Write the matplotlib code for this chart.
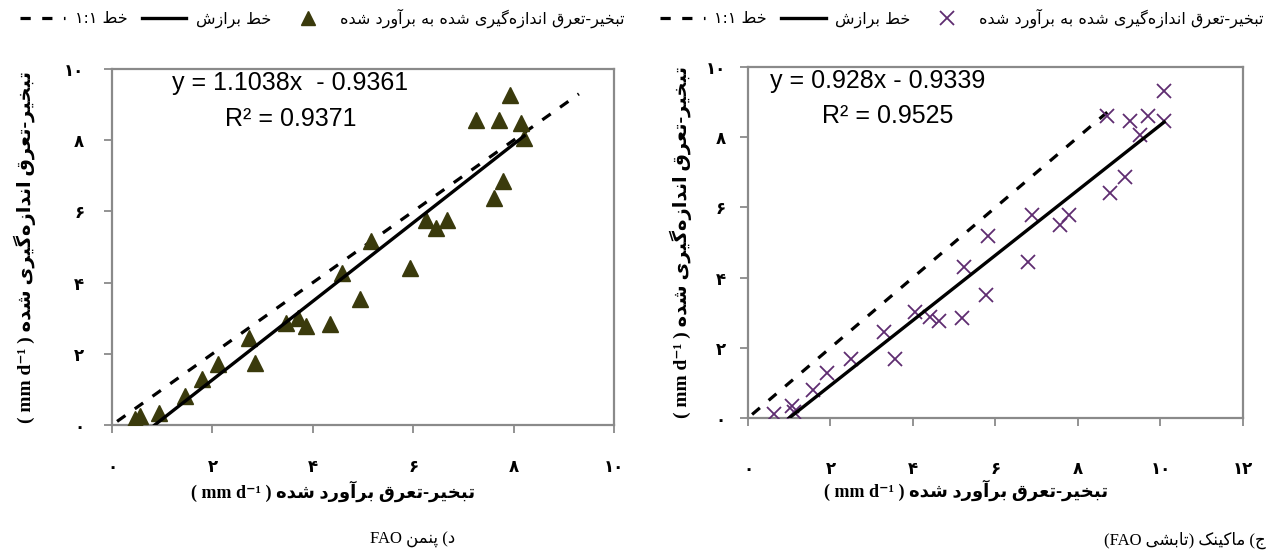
import matplotlib
matplotlib.use('Agg')
import matplotlib.pyplot as plt
from matplotlib.lines import Line2D

# ---- values ----
# left panel: Penman FAO
pm_est = [0.45, 0.56, 0.93, 1.46, 1.79, 2.11, 2.72, 2.85, 3.46, 3.70, 3.86, 4.35, 4.58,
          4.93, 5.16, 5.93, 6.26, 6.46, 6.67, 7.26, 7.60, 7.70, 7.79, 7.93, 8.15, 8.21]
pm_meas = [0.18, 0.24, 0.35, 0.81, 1.28, 1.70, 2.45, 1.75, 2.87, 3.01, 2.78, 2.83, 4.27,
           3.53, 5.16, 4.42, 5.77, 5.54, 5.77, 8.58, 6.38, 8.58, 6.85, 9.28, 8.48, 8.06]
pm_fit_x = [0.85, 8.21]
pm_fit_y = [0.0, 8.12]
pm_one_x = [0.1, 9.3]
pm_eq = 'y = 1.1038x  - 0.9361'
pm_r2 = 'R² = 0.9371'

# right panel: Makkink (FAO radiation)
mk_est = [0.62, 1.06, 1.12, 1.58, 1.91, 2.50, 3.31, 3.56, 4.06, 4.42, 4.63, 5.19, 5.24,
          5.77, 5.81, 6.80, 6.89, 7.57, 7.79, 8.70, 8.77, 9.15, 9.27, 9.50, 9.69, 10.09, 10.09]
mk_meas = [0.12, 0.33, 0.17, 0.79, 1.28, 1.69, 2.45, 1.67, 3.03, 2.88, 2.77, 2.84, 4.31,
           3.50, 5.19, 4.43, 5.78, 5.50, 5.77, 8.59, 6.42, 6.86, 8.47, 8.05, 8.61, 9.31, 8.47]
mk_fit_x = [1.0, 10.09]
mk_fit_y = [0.0, 8.43]
mk_one_x = [0.1, 8.9]
mk_eq = 'y = 0.928x - 0.9339'
mk_r2 = 'R² = 0.9525'

pm_xticks = [0, 2, 4, 6, 8, 10]
mk_xticks = [0, 2, 4, 6, 8, 10, 12]
yticks = [0, 2, 4, 6, 8, 10]

# ---- tiny persian shaper (matplotlib has no RTL / joining support) ----
FORMS = {
    'آ': ('\uFE81', '\uFE82', None, None), 'ا': ('\uFE8D', '\uFE8E', None, None),
    'ب': ('\uFE8F', '\uFE90', '\uFE91', '\uFE92'), 'پ': ('\uFB56', '\uFB57', '\uFB58', '\uFB59'),
    'ت': ('\uFE95', '\uFE96', '\uFE97', '\uFE98'), 'ج': ('\uFE9D', '\uFE9E', '\uFE9F', '\uFEA0'),
    'خ': ('\uFEA5', '\uFEA6', '\uFEA7', '\uFEA8'), 'د': ('\uFEA9', '\uFEAA', None, None),
    'ر': ('\uFEAD', '\uFEAE', None, None), 'ز': ('\uFEAF', '\uFEB0', None, None),
    'ش': ('\uFEB5', '\uFEB6', '\uFEB7', '\uFEB8'), 'ط': ('\uFEC1', '\uFEC2', '\uFEC3', '\uFEC4'),
    'ع': ('\uFEC9', '\uFECA', '\uFECB', '\uFECC'), 'ق': ('\uFED5', '\uFED6', '\uFED7', '\uFED8'),
    'ک': ('\uFB8E', '\uFB8F', '\uFB90', '\uFB91'), 'گ': ('\uFB92', '\uFB93', '\uFB94', '\uFB95'),
    'م': ('\uFEE1', '\uFEE2', '\uFEE3', '\uFEE4'), 'ن': ('\uFEE5', '\uFEE6', '\uFEE7', '\uFEE8'),
    'و': ('\uFEED', '\uFEEE', None, None), 'ه': ('\uFEE9', '\uFEEA', '\uFEEB', '\uFEEC'),
    'ی': ('\uFBFC', '\uFBFD', '\uFBFE', '\uFBFF'),
}


def fa(s):
    out = []
    for i, c in enumerate(s):
        if c not in FORMS:
            if c != '\u200c':
                out.append(c)
            continue
        prev = s[i - 1] if i > 0 else ''
        nxt = s[i + 1] if i < len(s) - 1 else ''
        jp = prev in FORMS and FORMS[prev][2] is not None
        jn = FORMS[c][2] is not None and nxt in FORMS
        iso, fin, ini, med = FORMS[c]
        out.append(med if jp and jn else fin if jp else ini if jn else iso)
    return ''.join(out)[::-1]


def fa_num(v):
    return str(v).translate(str.maketrans('0123456789', '۰۱۲۳۴۵۶۷۸۹'))


lbl_obs = fa('تبخیر-تعرق اندازه\u200cگیری شده به برآورد شده')
lbl_fit = fa('خط برازش')
lbl_one = '۱:۱ ' + fa('خط')
xlab = '( mm d⁻¹ ) ' + fa('تبخیر-تعرق برآورد شده')
ylab = '( mm d⁻¹ ) ' + fa('تبخیر-تعرق اندازه\u200cگیری شده')
cap_pm = 'FAO ' + fa('پنمن') + ' (' + fa('د')
cap_mk = '(FAO ' + fa('تابشی') + ') ' + fa('ماکینک') + ' (' + fa('ج')

olive = '#3a3a0c'
purple = '#5e2c70'
grey = '#8a8a8a'
serif = ['Liberation Serif', 'DejaVu Sans']

fig = plt.figure(figsize=(12.79, 5.6), dpi=100)


def panel(rect, est, meas, marker, color, ms, fit_x, fit_y, one_x, xticks, eq, r2,
          xpad, ypad, ylpad, eqx, xlab_y):
    ax = fig.add_axes(rect)
    ax.plot(one_x, one_x, color='black', lw=2.3, ls=(0, (3.2, 3.6)), zorder=2)
    if marker == '^':
        ax.plot(est, meas, ls='none', marker='^', ms=ms, color=color, zorder=3)
    else:
        ax.plot(est, meas, ls='none', marker='x', ms=ms, mew=1.3, color=color, zorder=3)
    ax.plot(fit_x, fit_y, color='black', lw=2.4, zorder=4)
    ax.set_xlim(0, xticks[-1])
    ax.set_ylim(0, 10)
    ax.set_xticks(xticks)
    ax.set_xticklabels([fa_num(t) for t in xticks])
    ax.set_yticks(yticks)
    ax.set_yticklabels([fa_num(t) for t in yticks])
    ax.tick_params(axis='x', length=6, width=1.3, color=grey, pad=xpad, labelsize=12)
    ax.tick_params(axis='y', length=6, width=1.3, color=grey, pad=ypad, labelsize=12)
    for t in ax.get_xticklabels() + ax.get_yticklabels():
        t.set_fontweight('bold')
        t.set_family('DejaVu Sans')
    for s in ax.spines.values():
        s.set_color(grey)
        s.set_linewidth(1.6)
    ax.set_xlabel(xlab, family=serif, fontweight='bold', fontsize=13)
    ax.xaxis.set_label_coords(0.44, xlab_y)
    ax.set_ylabel(ylab, family=serif, fontweight='bold', fontsize=14, labelpad=ylpad)
    ax.text(eqx, 0.96, eq, transform=ax.transAxes, family='Liberation Sans',
            fontsize=18, va='center', ha='left')
    ax.text(eqx + 0.105, 0.86, r2, transform=ax.transAxes, family='Liberation Sans',
            fontsize=18, va='center', ha='left')
    return ax


ax1 = panel([0.0876, 0.2411, 0.3925, 0.6357], pm_est, pm_meas, '^', olive, 11,
            pm_fit_x, pm_fit_y, pm_one_x, pm_xticks, pm_eq, pm_r2, 18, 14, 20, 0.12, -0.155)
ax2 = panel([0.5848, 0.2536, 0.3870, 0.6268], mk_est, mk_meas, 'x', purple, 10,
            mk_fit_x, mk_fit_y, mk_one_x, mk_xticks, mk_eq, mk_r2, 24, 10, 10, 0.045, -0.175)


def legend(marker, color, cx):
    h = [Line2D([], [], color='black', lw=2.3, ls=(0, (3.2, 3.6))),
         Line2D([], [], color='black', lw=2.4),
         Line2D([], [], ls='none', marker=marker, color=color, ms=10,
                mew=1.3 if marker == 'x' else 1)]
    fig.legend(h, [lbl_one, lbl_fit, lbl_obs], ncol=3, loc='center',
               bbox_to_anchor=(cx, 0.968), frameon=False, fontsize=11.5,
               handlelength=2.8, columnspacing=0.9, handletextpad=0.6,
               borderpad=0.1, borderaxespad=0.1)


legend('^', olive, 0.252)
legend('x', purple, 0.752)

fig.text(0.356, 0.035, cap_pm, family=serif, fontsize=12, ha='right', va='center')
fig.text(0.99, 0.035, cap_mk, family=serif, fontsize=12, ha='right', va='center')

fig.savefig('out.png', dpi=100)
